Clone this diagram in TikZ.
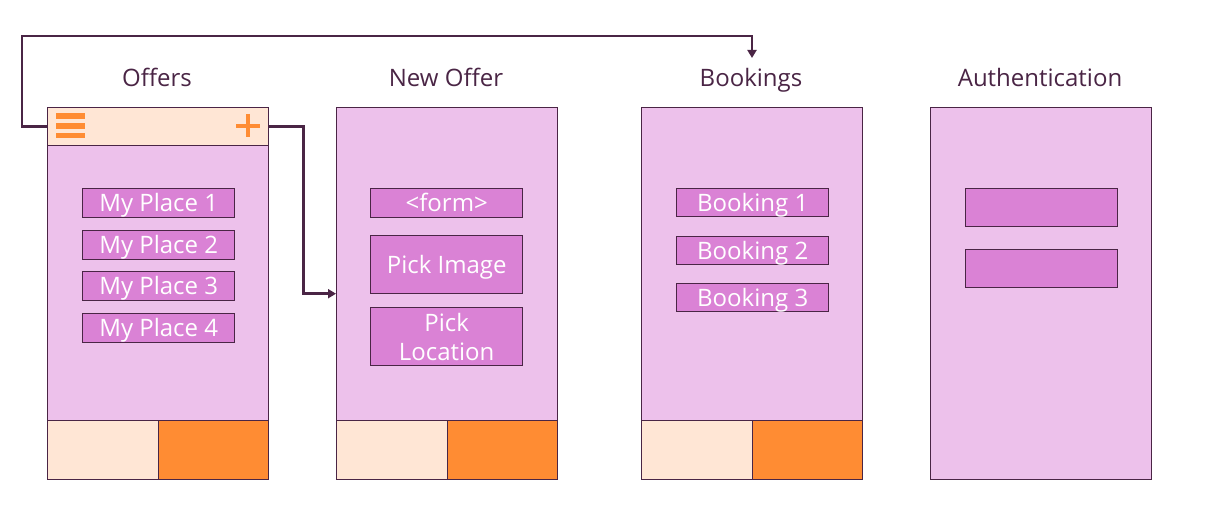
\documentclass[tikz,border=0pt]{standalone}
\usepackage{fontspec}
\setmainfont{Open Sans}
\usetikzlibrary{arrows.meta}
\definecolor{ink}{HTML}{4A2545}
\definecolor{lilac}{HTML}{EDC1EB}
\definecolor{mauve}{HTML}{DA82D5}
\definecolor{peach}{HTML}{FFE6D5}
\definecolor{tangerine}{HTML}{FF8C33}
\begin{document}
\begin{tikzpicture}[x=1pt, y=-1pt,
        screen/.style={draw=ink, line width=1.4pt, fill=lilac, anchor=north west,
            inner sep=0, minimum width=221pt, minimum height=372pt},
        topbar/.style={draw=ink, line width=1.4pt, fill=peach, anchor=north west,
            inner sep=0, minimum width=221pt, minimum height=38pt},
        tab/.style={draw=ink, line width=1.4pt, anchor=north west,
            inner sep=0, minimum width=110.5pt, minimum height=59pt},
        item/.style={draw=ink, line width=1.4pt, fill=mauve, text=white, anchor=north west,
            inner sep=0, minimum width=152pt, align=center, text height=17pt, text depth=0pt,
            font=\fontsize{24}{29}\selectfont},
        title/.style={text=ink, anchor=base, font=\fontsize{24}{28}\selectfont},
        link/.style={draw=ink, line width=2.5pt, -{Triangle[width=9pt,length=8pt]}}]
    \useasboundingbox (0,0) rectangle (1206,532);

    % titles
    \node[title] (offtitle)  at (157,87)  {Offers};
    \node[title] (newtitle)  at (446,87)  {New Offer};
    \node[title] (booktitle) at (751,87)  {Bookings};
    \node[title] (authtitle) at (1040,87) {Authentication};

    % screens
    \node[screen] (offscreen)  at (47,107)  {};
    \node[screen] (newscreen)  at (336,107) {};
    \node[screen] (bookscreen) at (641,107) {};
    \node[screen] (authscreen) at (930,107) {};

    % tabs
    \foreach \x/\n in {47/off, 336/new, 641/book} {
        \node[tab, fill=peach]     (\n tabl) at (\x,420)       {};
        \node[tab, fill=tangerine] (\n tabr) at (\x+110.5,420) {};
    }

    % top bar with icons
    \node[topbar] (offbar) at (47,107) {};
    \foreach \y in {113.3,123,132.7}
        \fill[tangerine] (56,\y) rectangle ++(29,5.6);
    \draw[tangerine, line width=4pt] (236,125.5) -- (260,125.5) (248,114) -- (248,137);

    % offers
    \foreach \i/\y in {1/188, 2/230, 3/271, 4/313}
        \node[item, minimum height=29pt] (place\i) at (82,\y) {My Place \i};

    % new offer
    \node[item, minimum height=29pt] (form)    at (370,188) {<form>};
    \node[item, minimum height=58pt] (pickimg) at (370,235) {Pick Image};
    \node[item, minimum height=58pt, text height={}, text depth={}] (pickloc) at (370,307) {Pick\\Location};

    % bookings
    \foreach \i/\y in {1/188, 2/236, 3/283}
        \node[item, minimum height=28pt] (booking\i) at (676,\y) {Booking \i};

    % authentication
    \node[item, minimum height=38pt] (authuser) at (965,188) {};
    \node[item, minimum height=38pt] (authpass) at (965,249) {};

    % navigation
    \coordinate (bookin) at (752,58);
    \draw[link] (offbar.west) -| (22,36) -| (bookin);
    \draw[link] (offbar.east) -- ++(34,0) |- (newscreen.west);
\end{tikzpicture}
\end{document}
